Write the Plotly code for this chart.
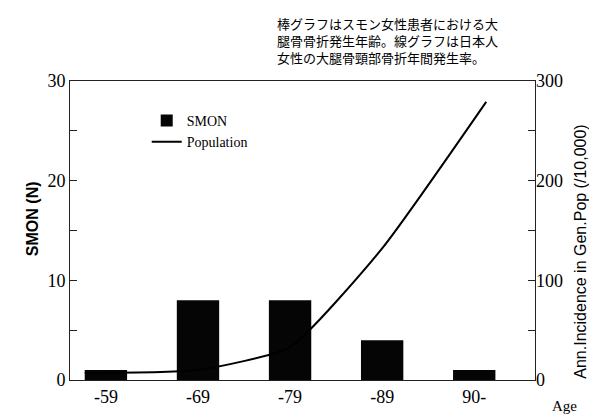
import plotly.graph_objects as go

categories = ["-59", "-69", "-79", "-89", "90-"]
cat_pos = [0, 1, 2, 3, 4]
smon_counts = [1, 8, 8, 4, 1]

pop_x = [-0.23, 1, 2, 3, 4.13]
pop_incidence = [7, 10, 33, 132, 279]

note_lines = [
    "棒グラフはスモン女性患者における大",
    "腿骨骨折発生年齢。線グラフは日本人",
    "女性の大腿骨頸部骨折年間発生率。",
]

serif = "Liberation Serif"
sans = "Liberation Sans"

fig = go.Figure()
fig.add_trace(go.Bar(
    x=cat_pos, y=smon_counts, name="SMON", width=0.46,
    marker=dict(color="#050505", line=dict(width=0)),
    yaxis="y",
))
fig.add_trace(go.Scatter(
    x=pop_x, y=pop_incidence, name="Population", mode="lines",
    line=dict(color="#000000", width=2, shape="spline", smoothing=0.5),
    yaxis="y2",
))

fig.update_layout(
    width=597, height=418,
    margin=dict(l=62, r=70, t=73, b=46),
    paper_bgcolor="white", plot_bgcolor="white",
    showlegend=True,
    legend=dict(x=0.165, y=0.92, xanchor="left", yanchor="top",
                font=dict(family=serif, size=14, color="black"),
                bgcolor="rgba(0,0,0,0)", itemwidth=30, tracegroupgap=0),
    xaxis=dict(
        range=[-0.39, 4.66], tickvals=cat_pos, ticktext=categories,
        showline=True, mirror=True, linecolor="#222", linewidth=1,
        showgrid=False, zeroline=False, ticks="",
        tickfont=dict(family=serif, size=18, color="black"),
    ),
    yaxis=dict(
        range=[0, 30], tickvals=[0, 10, 20, 30],
        showline=True, mirror=True, linecolor="#222", linewidth=1,
        showgrid=False, zeroline=False,
        ticks="inside", ticklen=7, tickcolor="#222",
        minor=dict(dtick=5, ticks="inside", ticklen=7, tickcolor="#222", showgrid=False),
        tickfont=dict(family=serif, size=18, color="black"),
    ),
    yaxis2=dict(
        range=[0, 300], tickvals=[0, 100, 200, 300], overlaying="y", side="right",
        showline=False, showgrid=False, zeroline=False,
        ticks="inside", ticklen=7, tickcolor="#222",
        minor=dict(dtick=50, ticks="inside", ticklen=7, tickcolor="#222", showgrid=False),
        tickfont=dict(family=serif, size=18, color="black"),
    ),
)

fig.add_annotation(text="SMON (N)", xref="paper", yref="paper", x=-0.103, y=0.54,
                   textangle=-90, showarrow=False,
                   font=dict(family=sans, size=16, color="black", weight="bold"))
fig.add_annotation(text="Ann.Incidence in Gen.Pop (/10,000)", xref="paper", yref="paper",
                   x=1.12, y=0.43, textangle=-90, showarrow=False,
                   font=dict(family=sans, size=16, color="black"))
fig.add_annotation(text="Age", xref="paper", yref="paper", x=1.095, y=-0.12,
                   showarrow=False, font=dict(family=serif, size=15, color="black"))
fig.add_annotation(text="<br>".join(note_lines), xref="paper", yref="paper",
                   x=0.44, y=1.232, xanchor="left", yanchor="top", align="left",
                   showarrow=False,
                   font=dict(family="Noto Sans CJK JP", size=13, color="black"))

fig.write_html("out.html")
